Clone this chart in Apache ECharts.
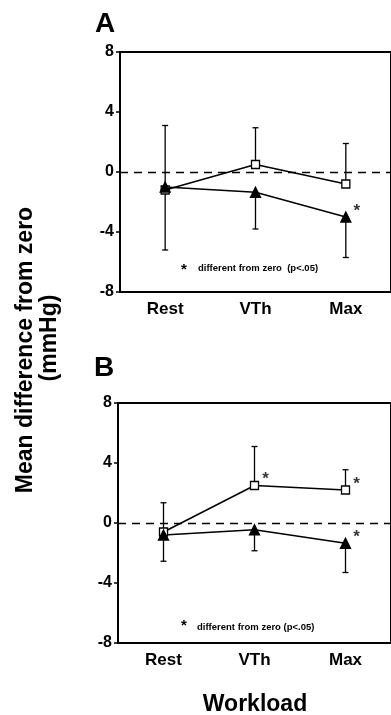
<!DOCTYPE html>
<html>
<head>
<meta charset="utf-8">
<script src="https://cdn.jsdelivr.net/npm/echarts@6/dist/echarts.min.js"></script>
<style>
html,body{margin:0;padding:0;background:#fff;}
#chart{width:391px;height:715px;}
</style>
</head>
<body>
<div id="chart"></div>
<script>
// ---- data ----
const categories = ['Rest', 'VTh', 'Max'];
const yMin = -8, yMax = 8, yStep = 4;

// Panel A
const squareA = [-1.2, 0.5, -0.8];
const triangleA = [-1.0, -1.35, -3.0];
const squareUpperA = [3.1, 2.95, 1.9];
const triangleLowerA = [-5.2, -3.8, -5.7];
const sigSquareA = [false, false, false];
const sigTriangleA = [false, false, true];

// Panel B
const squareB = [-0.6, 2.5, 2.2];
const triangleB = [-0.8, -0.45, -1.35];
const squareUpperB = [1.35, 5.1, 3.55];
const triangleLowerB = [-2.55, -1.85, -3.3];
const sigSquareB = [false, true, true];
const sigTriangleB = [false, false, true];

const panelLabels = ['A', 'B'];
const yTitle = 'Mean difference from zero';
const yUnit = '(mmHg)';
const xTitle = 'Workload';
const noteText = 'different from zero (p<.05)';

// ---- chart ----
const FONT = '"Liberation Sans", Arial, Helvetica, sans-serif';
const chart = echarts.init(document.getElementById('chart'), null, {renderer: 'canvas'});

const grids = [
  {left: 120, top: 52, width: 276, height: 240},
  {left: 118, top: 403, width: 276, height: 240}
];

function xAxisDef(gi) {
  return {
    type: 'category', gridIndex: gi, data: categories, boundaryGap: true,
    axisLine: {onZero: false, lineStyle: {color: '#000', width: 2}},
    axisTick: {alignWithLabel: true, length: 5, lineStyle: {color: '#000', width: 1.5}},
    axisLabel: {color: '#000', fontFamily: FONT, fontWeight: 'bold', fontSize: 17, margin: 9},
    splitLine: {show: false}
  };
}
function yAxisDef(gi) {
  return {
    type: 'value', gridIndex: gi, min: yMin, max: yMax, interval: yStep,
    axisLine: {show: true, onZero: false, lineStyle: {color: '#000', width: 2}},
    axisTick: {show: true, length: 4, lineStyle: {color: '#000', width: 1.5}},
    axisLabel: {color: '#000', fontFamily: FONT, fontWeight: 'bold', fontSize: 16, margin: 6},
    splitLine: {show: false}
  };
}

function errorSeries(gi, centers, ends) {
  return {
    type: 'custom', xAxisIndex: gi, yAxisIndex: gi, z: 1, silent: true,
    data: categories.map((c, i) => [i, centers[i], ends[i]]),
    renderItem: function (params, api) {
      const p1 = api.coord([api.value(0), api.value(1)]);
      const p2 = api.coord([api.value(0), api.value(2)]);
      const st = {stroke: '#000', lineWidth: 1.3};
      return {type: 'group', children: [
        {type: 'line', shape: {x1: p1[0], y1: p1[1], x2: p2[0], y2: p2[1]}, style: st},
        {type: 'line', shape: {x1: p2[0] - 3, y1: p2[1], x2: p2[0] + 3, y2: p2[1]}, style: st}
      ]};
    }
  };
}

function lineSeries(gi, values, symbol, fill, size, withZero) {
  const s = {
    type: 'line', xAxisIndex: gi, yAxisIndex: gi, z: 3,
    data: values, symbol: symbol, symbolSize: size, showSymbol: true,
    lineStyle: {color: '#000', width: 1.5},
    itemStyle: {color: fill, borderColor: '#000', borderWidth: 1.3},
    emphasis: {disabled: true}
  };
  if (withZero) {
    s.markLine = {silent: true, symbol: ['none', 'none'], animation: false, z: 0,
      lineStyle: {color: '#000', width: 1.3, type: [8, 6]},
      emphasis: {disabled: true},
      label: {show: false}, data: [{yAxis: 0}]};
  }
  return s;
}

function starSeries(gi, values, flags) {
  const pts = [];
  values.forEach((v, i) => { if (flags[i]) pts.push([i, v]); });
  return {
    type: 'scatter', xAxisIndex: gi, yAxisIndex: gi, z: 4, silent: true,
    symbol: 'circle', symbolSize: 1, itemStyle: {color: 'rgba(0,0,0,0)'}, data: pts,
    label: {show: true, formatter: '*', position: 'inside', offset: [11, -6],
      color: '#000', fontFamily: FONT, fontWeight: 'bold', fontSize: 17}
  };
}

const series = [
  errorSeries(0, squareA, squareUpperA),
  errorSeries(0, triangleA, triangleLowerA),
  lineSeries(0, squareA, 'rect', '#fff', 8, true),
  lineSeries(0, triangleA, 'triangle', '#000', 10, false),
  starSeries(0, triangleA, sigTriangleA),
  starSeries(0, squareA, sigSquareA),
  errorSeries(1, squareB, squareUpperB),
  errorSeries(1, triangleB, triangleLowerB),
  lineSeries(1, squareB, 'rect', '#fff', 8, true),
  lineSeries(1, triangleB, 'triangle', '#000', 10, false),
  starSeries(1, triangleB, sigTriangleB),
  starSeries(1, squareB, sigSquareB)
];

function boldText(txt, x, y, size, extra) {
  return Object.assign({type: 'text', x: x, y: y, silent: true,
    style: {text: txt, fill: '#000', font: 'bold ' + size + 'px ' + FONT, align: 'center', verticalAlign: 'middle'}}, extra || {});
}

const graphic = [
  boldText(panelLabels[0], 105, 24, 28),
  boldText(panelLabels[1], 104, 368, 28),
  boldText(yTitle, 26, 350, 23, {rotation: Math.PI / 2}),
  boldText(yUnit, 50, 338, 23, {rotation: Math.PI / 2}),
  boldText(xTitle, 255, 705, 23),
  boldText('*', 184, 270, 15),
  {type: 'text', x: 198, y: 268, silent: true,
   style: {text: noteText.replace('zero ', 'zero  '), fill: '#000', font: 'bold 9.5px ' + FONT, align: 'left', verticalAlign: 'middle'}},
  boldText('*', 184, 626, 15),
  {type: 'text', x: 197, y: 627, silent: true,
   style: {text: noteText, fill: '#000', font: 'bold 9.5px ' + FONT, align: 'left', verticalAlign: 'middle'}}
];

chart.setOption({
  animation: false,
  backgroundColor: '#fff',
  grid: grids.map(g => Object.assign({show: true, borderColor: '#000', borderWidth: 2, backgroundColor: 'transparent'}, g)),
  xAxis: [xAxisDef(0), xAxisDef(1)],
  yAxis: [yAxisDef(0), yAxisDef(1)],
  series: series,
  graphic: graphic
});
</script>
</body>
</html>
